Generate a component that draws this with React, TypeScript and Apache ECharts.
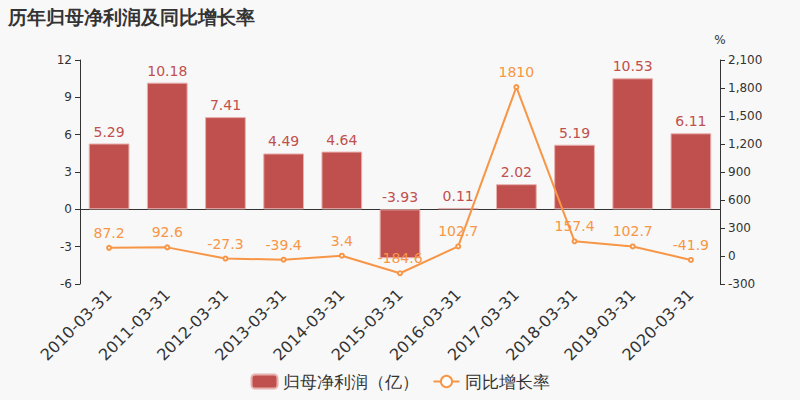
import React, { useEffect, useRef } from 'react';
import * as echarts from 'echarts';

const categories = [
  '2010-03-31', '2011-03-31', '2012-03-31', '2013-03-31', '2014-03-31', '2015-03-31',
  '2016-03-31', '2017-03-31', '2018-03-31', '2019-03-31', '2020-03-31',
];
const profit = [5.29, 10.18, 7.41, 4.49, 4.64, -3.93, 0.11, 2.02, 5.19, 10.53, 6.11];
const growth = [87.2, 92.6, -27.3, -39.4, 3.4, -184.6, 102.7, 1810, 157.4, 102.7, -41.9];

const BAR = '#c0504d';
const LINE = '#f79646';

const App: React.FC = () => {
  const chartRef = useRef<HTMLDivElement>(null);

  useEffect(() => {
    if (!chartRef.current) return;
    const chart = echarts.init(chartRef.current, null, { renderer: 'svg' });
    const font = 'DejaVu Sans, sans-serif';

    const option: echarts.EChartsOption = {
      animation: false,
      backgroundColor: '#f8f8f8',
      textStyle: { fontFamily: font },
      title: {
        text: '历年归母净利润及同比增长率',
        left: 3,
        top: 2,
        textStyle: { fontSize: 19, fontWeight: 'bold', color: '#333' },
      },
      legend: {
        bottom: 5,
        itemGap: 14,
        itemWidth: 26,
        itemHeight: 14,
        textStyle: { fontSize: 17, color: '#333' },
        data: [
          { name: '归母净利润（亿）', icon: 'roundRect' },
          { name: '同比增长率' },
        ],
      },
      grid: { left: 80, right: 80, top: 60, bottom: 116 },
      xAxis: {
        type: 'category',
        data: categories,
        axisLine: { lineStyle: { color: '#333' } },
        axisLabel: { rotate: 45, fontSize: 16, color: '#333', interval: 0 },
      },
      yAxis: [
        {
          type: 'value',
          min: -6,
          max: 12,
          interval: 3,
          splitLine: { show: false },
          axisLine: { show: true, lineStyle: { color: '#333' } },
          axisTick: { show: true },
          axisLabel: { color: '#333', fontSize: 12 },
        },
        {
          type: 'value',
          name: '%',
          nameGap: 14,
          nameTextStyle: { color: '#333', fontSize: 12 },
          min: -300,
          max: 2100,
          interval: 300,
          splitLine: { show: false },
          axisLine: { show: true, lineStyle: { color: '#333' } },
          axisTick: { show: true },
          axisLabel: { color: '#333', fontSize: 12 },
        },
      ],
      series: [
        {
          name: '归母净利润（亿）',
          type: 'bar',
          data: profit,
          barWidth: '70%',
          itemStyle: { color: BAR, borderColor: '#e8b0ae', borderWidth: 1 },
          label: { show: true, position: 'top', color: BAR, fontSize: 14 },
        },
        {
          name: '同比增长率',
          type: 'line',
          yAxisIndex: 1,
          data: growth,
          symbol: 'emptyCircle',
          symbolSize: 4,
          lineStyle: { color: LINE, width: 2 },
          itemStyle: { color: LINE },
          label: { show: true, position: 'top', color: LINE, fontSize: 14 },
        },
      ],
    };

    chart.setOption(option);
    return () => chart.dispose();
  }, []);

  return (
    <div
      ref={chartRef}
      style={{ position: 'absolute', left: 0, top: 0, width: 800, height: 400 }}
    />
  );
};

export default App;
